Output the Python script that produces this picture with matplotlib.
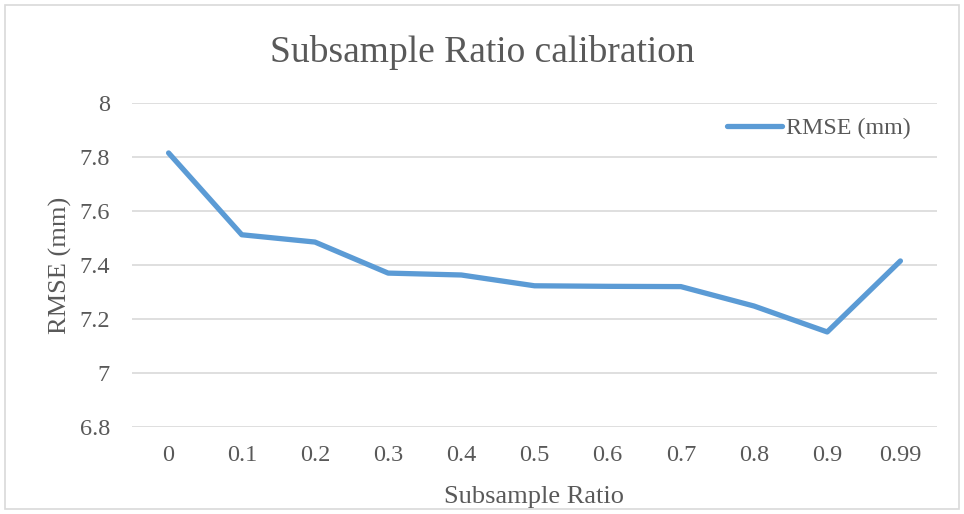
import matplotlib
matplotlib.use("Agg")
import matplotlib.pyplot as plt
from matplotlib.patches import Rectangle

categories = ["0", "0.1", "0.2", "0.3", "0.4", "0.5", "0.6", "0.7", "0.8", "0.9", "0.99"]
rmse = [7.815, 7.512, 7.485, 7.370, 7.363, 7.323, 7.321, 7.320, 7.248, 7.152, 7.415]
yticks = [6.8, 7.0, 7.2, 7.4, 7.6, 7.8, 8.0]
ytick_labels = ["6.8", "7", "7.2", "7.4", "7.6", "7.8", "8"]

plt.rcParams['font.family'] = ['Liberation Serif', 'DejaVu Serif']
txt = "#595959"

fig = plt.figure(figsize=(9.64, 5.14), dpi=100)
fig.patches.append(Rectangle((5/964, 5/514), 1 - 10/964, 1 - 10/514, transform=fig.transFigure,
                             fill=False, edgecolor="#d9d9d9", linewidth=1.2))
ax = fig.add_axes([132/964, 1 - 427/514, (937 - 132)/964, (427 - 103)/514])

x = list(range(len(categories)))
ax.plot(x, rmse, color="#5B9BD5", linewidth=3.8, solid_capstyle="round", solid_joinstyle="round",
        label="RMSE (mm)", zorder=3)

ax.set_xlim(-0.5, len(categories) - 0.5)
ax.set_ylim(6.8, 8.0)
ax.set_yticks(yticks)
ax.set_yticklabels(ytick_labels)
ax.set_xticks(x)
ax.set_xticklabels(categories)
ax.grid(axis="y", color="#d9d9d9", linewidth=1.2)
ax.set_axisbelow(True)
for s in ax.spines.values():
    s.set_visible(False)
ax.tick_params(axis="both", length=0, labelsize=17.5, labelcolor=txt)
ax.tick_params(axis="y", pad=16)
ax.tick_params(axis="x", pad=13)

fig.text(0.5, 1 - 62/514, "Subsample Ratio calibration", fontsize=27, color=txt,
         ha="center", va="baseline")
ax.set_xlabel("Subsample Ratio", fontsize=19, color=txt, labelpad=14)
ax.set_ylabel("RMSE (mm)", fontsize=19, color=txt, labelpad=5)

leg = ax.legend(loc="upper right", bbox_to_anchor=(0.985, 1.0), frameon=False, fontsize=17.3,
                handlelength=2.3, handletextpad=0.15, labelcolor=txt, borderaxespad=0.2)

fig.savefig("out.png", dpi=100)
